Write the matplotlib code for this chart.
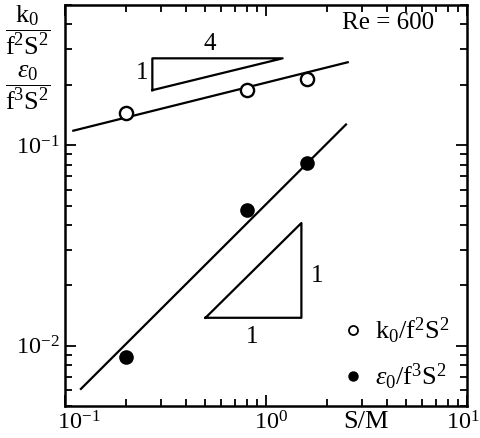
import matplotlib
matplotlib.use("Agg")
import numpy as np
import matplotlib.pyplot as plt
import matplotlib.transforms as mtransforms

# =========================
# DATA
# =========================
SM = [0.2, 0.8, 1.6]
k0_norm = [0.144, 0.188, 0.213]      # k0 / f^2 S^2
eps0_norm = [0.0088, 0.0475, 0.0814]  # eps0 / f^3 S^2

# fitted power laws  y = C * x**n
k_fit_C, k_fit_n = 0.205, 0.25
k_fit_x = [0.11, 2.55]
e_fit_C, e_fit_n = 0.0507, 1.0
e_fit_x = [0.12, 2.5]

# slope triangles
tri_k_x = [0.272, 0.272, 1.21, 0.272]
tri_k_y = [0.188, 0.271, 0.271, 0.188]
tri_e_x = [0.5, 1.5, 1.5, 0.5]
tri_e_y = [0.01377, 0.01377, 0.0409, 0.01377]

# =========================
# STYLE
# =========================
plt.rcParams["font.family"] = ["Liberation Serif", "DejaVu Serif"]
plt.rcParams["mathtext.fontset"] = "custom"
plt.rcParams["mathtext.rm"] = "Liberation Serif"
plt.rcParams["mathtext.it"] = "Liberation Serif:italic"
plt.rcParams["mathtext.bf"] = "Liberation Serif:bold"
FS = 17.5

fig = plt.figure(figsize=(4.81, 4.38), dpi=100)
ax = fig.add_axes([65 / 481, 1 - 406 / 438, 402 / 481, 401 / 438])

ax.set_xscale("log")
ax.set_yscale("log")
ax.set_xlim(0.1, 10)
ax.set_ylim(0.005, 0.5)

for s in ax.spines.values():
    s.set_linewidth(1.8)

ax.tick_params(which="both", direction="in", top=True, right=True,
               labelsize=FS, width=1.3)
ax.tick_params(which="major", length=8, pad=4)
ax.tick_params(which="minor", length=5)
ax.set_xticks([0.1, 1, 10])
ax.set_yticks([0.01, 0.1])

# nudge x tick labels like in the original
for lab, dx in zip(ax.get_xticklabels(), [14, 5, -4]):
    lab.set_transform(lab.get_transform() +
                      mtransforms.ScaledTranslation(dx / 100, 0, fig.dpi_scale_trans))

# =========================
# DATA + FITS
# =========================
xk = np.array(k_fit_x)
ax.plot(xk, k_fit_C * xk ** k_fit_n, color="black", lw=1.6)
xe = np.array(e_fit_x)
ax.plot(xe, e_fit_C * xe ** e_fit_n, color="black", lw=1.6)

ax.plot(SM, k0_norm, "o", ms=9.5, mfc="white", mec="black", mew=1.7, zorder=3)
ax.plot(SM, eps0_norm, "o", ms=9.5, mfc="black", mec="black", zorder=3)

# slope triangles
ax.plot(tri_k_x, tri_k_y, color="black", lw=1.6)
ax.plot(tri_e_x, tri_e_y, color="black", lw=1.6)
ax.text(0.528, 0.321, "4", fontsize=18, ha="center", va="center")
ax.text(0.242, 0.228, "1", fontsize=18, ha="center", va="center")
ax.text(1.79, 0.0223, "1", fontsize=18, ha="center", va="center")
ax.text(0.857, 0.0111, "1", fontsize=18, ha="center", va="center")

ax.text(0.803, 0.955, "Re = 600", fontsize=18, ha="center", va="center",
        transform=ax.transAxes)

# legend
ax.plot([], [], "o", ms=6.5, mfc="white", mec="black", mew=1.3,
        label=r"$\mathrm{k_0/f^2S^2}$")
ax.plot([], [], "o", ms=6.5, mfc="black", mec="black",
        label=r"$\varepsilon_0\mathrm{/f^3S^2}$")
handles, labels = ax.get_legend_handles_labels()
ax.legend(handles[-2:], labels[-2:], loc="lower right",
          bbox_to_anchor=(0.955, 0.035), frameon=False, fontsize=19,
          handlelength=0.9, handletextpad=0.35, labelspacing=0.6,
          borderaxespad=0, borderpad=0)

# axis labels
ax.text(0.749, -0.012, "S/M", fontsize=19, ha="center", va="top",
        transform=ax.transAxes)
fig.text(0.058, 0.93, r"$\dfrac{\mathrm{k_0}}{\mathrm{f^2S^2}}$",
         fontsize=19, ha="center", va="center")
fig.text(0.058, 0.8, r"$\dfrac{\varepsilon_0}{\mathrm{f^3S^2}}$",
         fontsize=19, ha="center", va="center")

fig.savefig("out.png", dpi=100)
